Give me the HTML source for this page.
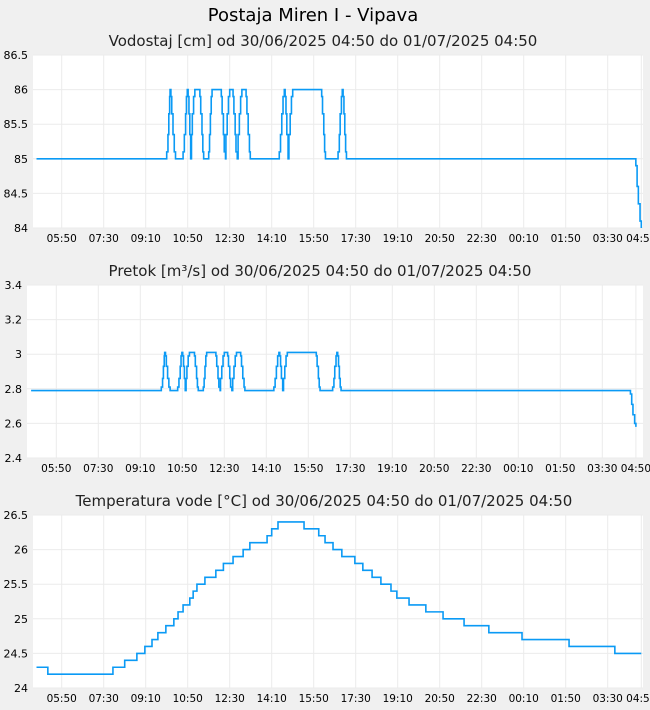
<!DOCTYPE html>
<html><head><meta charset="utf-8"><style>
body{margin:0;background:#f0f0f0;font-family:"DejaVu Sans","Liberation Sans",sans-serif}
svg{display:block}
</style></head><body>
<svg id="s" width="650" height="710" xmlns="http://www.w3.org/2000/svg">
<text x="313" y="21" text-anchor="middle" font-size="18" fill="#000">Postaja Miren I - Vipava</text>
</svg>
<script>
const tickLabels=["05:50","07:30","09:10","10:50","12:30","14:10","15:50","17:30","19:10","20:50","22:30","00:10","01:50","03:30","04:50"];
const tickMinutes=[60,160,260,360,460,560,660,760,860,960,1060,1160,1260,1360,1440];
const levelTimes=[0,310,313,315,317,318,320,322,325,328,331,349,352,355,357,359,361,363,365,367,369,371,374,377,389,391,394,396,398,410,412,414,416,418,440,442,445,447,450,451,454,457,460,468,470,473,475,478,480,483,486,489,499,501,504,507,509,578,581,584,587,590,592,594,596,599,601,604,607,610,679,681,684,686,688,718,721,723,726,728,730,732,734,736,738,1427,1430,1433,1437,1440];
const levelValues=[85,85.1,85.35,85.65,85.9,86,85.9,85.65,85.35,85.1,85,85.1,85.35,85.65,85.9,86,85.9,85.65,85.35,85,85.35,85.65,85.9,86,85.9,85.65,85.35,85.1,85,85.1,85.35,85.65,85.9,86,85.9,85.65,85.35,85.1,85,85.35,85.65,85.9,86,85.9,85.65,85.35,85.1,85,85.35,85.65,85.9,86,85.9,85.65,85.35,85.1,85,85.1,85.35,85.65,85.9,86,85.9,85.65,85.35,85,85.35,85.65,85.9,86,85.9,85.65,85.35,85.1,85,85.1,85.35,85.65,85.9,86,85.9,85.65,85.35,85.1,85,84.9,84.6,84.35,84.1,84];
const flowTimes=levelTimes;
const flowValues=[2.79,2.81,2.86,2.93,2.99,3.01,2.99,2.93,2.86,2.81,2.79,2.81,2.86,2.93,2.99,3.01,2.99,2.93,2.86,2.79,2.86,2.93,2.99,3.01,2.99,2.93,2.86,2.81,2.79,2.81,2.86,2.93,2.99,3.01,2.99,2.93,2.86,2.81,2.79,2.86,2.93,2.99,3.01,2.99,2.93,2.86,2.81,2.79,2.86,2.93,2.99,3.01,2.99,2.93,2.86,2.81,2.79,2.81,2.86,2.93,2.99,3.01,2.99,2.93,2.86,2.79,2.86,2.93,2.99,3.01,2.99,2.93,2.86,2.81,2.79,2.81,2.86,2.93,2.99,3.01,2.99,2.93,2.86,2.81,2.79,2.77,2.71,2.65,2.60,2.58];
const tempTimes=[0,27,182,210,239,258,275,289,308,327,337,349,365,373,382,401,427,445,468,492,508,549,560,575,637,672,687,706,727,758,777,799,820,844,858,887,927,968,1018,1077,1156,1268,1377,1440];
const tempValues=[24.3,24.2,24.3,24.4,24.5,24.6,24.7,24.8,24.9,25.0,25.1,25.2,25.3,25.4,25.5,25.6,25.7,25.8,25.9,26.0,26.1,26.2,26.3,26.4,26.3,26.2,26.1,26.0,25.9,25.8,25.7,25.6,25.5,25.4,25.3,25.2,25.1,25.0,24.9,24.8,24.7,24.6,24.5,24.5];
const levelTicks=[84,84.5,85,85.5,86,86.5];
const flowTicks=[2.4,2.6,2.8,3,3.2,3.4];
const tempTicks=[24,24.5,25,25.5,26,26.5];
const NS="http://www.w3.org/2000/svg";
const svg=document.getElementById('s');
function mk(tag,attrs,parent){const e=document.createElementNS(NS,tag);for(const k in attrs)e.setAttribute(k,attrs[k]);(parent||svg).appendChild(e);return e;}
function chart(cfg){
  const g=mk('g',{});
  
  
  const title=mk('text',{x:cfg.tx,y:cfg.top-9,'text-anchor':'middle','font-size':15,fill:'#222'},g);
  title.textContent=cfg.title;
  
  
  const plot=mk('rect',{x:cfg.left,y:cfg.top,width:643-cfg.left,height:cfg.bottom-cfg.top,fill:'#fff'},g);
  
  
  const ymin=cfg.ticks[0],ymax=cfg.ticks[cfg.ticks.length-1];
  const X=t=>cfg.x0+t*0.42;
  const Y=v=>cfg.bottom-(v-ymin)/(ymax-ymin)*(cfg.bottom-cfg.top);
  cfg.ticks.forEach(v=>{
    const y=Y(v);
    const gl=mk('line',{x1:cfg.left,x2:643,y1:y,y2:y,stroke:'#ebebeb','stroke-width':1},g);
    
    
    const t=mk('text',{x:cfg.left-5,y:y+4,'text-anchor':'end','font-size':11,fill:'#000'},g);
    t.textContent=String(v);
    
    
  });
  tickMinutes.forEach((m,i)=>{
    const x=X(m);
    const gl=mk('line',{x1:x,x2:x,y1:cfg.top,y2:cfg.bottom,stroke:'#ebebeb','stroke-width':1},g);
    
    
    const t=mk('text',{x:x,y:cfg.bottom+14,'text-anchor':'middle','font-size':10.5,fill:'#000'},g);
    t.textContent=tickLabels[i];
    
    
  });
  let d='';
  for(let i=0;i<cfg.times.length;i++){
    const x=X(cfg.times[i]).toFixed(2),y=Y(cfg.values[i]).toFixed(2);
    if(i===0)d+='M'+x+' '+y;else d+=' H'+x+' V'+y;
  }
  const p=mk('path',{d:d,fill:'none',stroke:'#0a9af5','stroke-width':1.6},g);
  
  
}
chart({name:'water-level-chart',title:'Vodostaj [cm] od 30/06/2025 04:50 do 01/07/2025 04:50',tx:323,left:33,top:55,bottom:228,x0:36.5,ticks:levelTicks,times:levelTimes,values:levelValues});
chart({name:'flow-chart',title:'Pretok [m³/s] od 30/06/2025 04:50 do 01/07/2025 04:50',tx:320,left:27,top:285,bottom:458,x0:31.1,ticks:flowTicks,times:flowTimes,values:flowValues});
chart({name:'temperature-chart',title:'Temperatura vode [°C] od 30/06/2025 04:50 do 01/07/2025 04:50',tx:324,left:33,top:515,bottom:688,x0:36.5,ticks:tempTicks,times:tempTimes,values:tempValues});
</script>
</body></html>
